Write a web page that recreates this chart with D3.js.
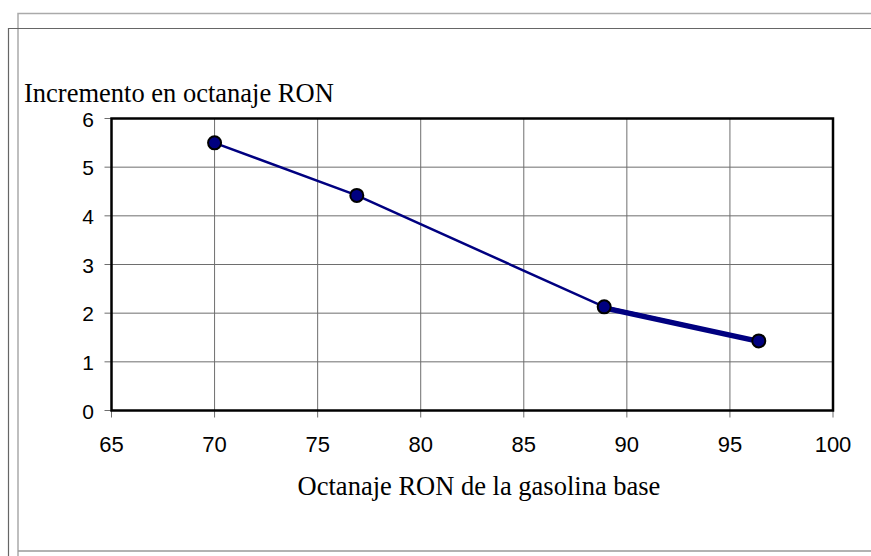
<!DOCTYPE html>
<html><head><meta charset="utf-8">
<script src="https://cdn.jsdelivr.net/npm/d3@7"></script>
<style>body{margin:0;background:#fff}svg{display:block}</style>
</head><body>
<svg id="c" width="871" height="556"></svg>
<script>
const xValues = [70, 76.9, 88.9, 96.4];
const yValues = [5.5, 4.42, 2.13, 1.43];
const thickX = [88.9, 96.4];
const thickY = [2.11, 1.42];
const xTicks = [65, 70, 75, 80, 85, 90, 95, 100];
const yTicks = [0, 1, 2, 3, 4, 5, 6];
const yTitle = "Incremento en octanaje RON";
const xTitle = "Octanaje RON de la gasolina base";

const svg = d3.select("#c");
const x = d3.scaleLinear().domain([65, 100]).range([111.5, 833]);
const y = d3.scaleLinear().domain([0, 6]).range([410.5, 118.5]);

// outer frames
svg.append("path").attr("d","M18,556 L18,13.5 L871,13.5").attr("fill","none").attr("stroke","#aaa").attr("stroke-width",1.5);
svg.append("path").attr("d","M18,551 L871,551").attr("fill","none").attr("stroke","#999").attr("stroke-width",1.5);
svg.append("path").attr("d","M8.5,556 L8.5,28.5 L871,28.5").attr("fill","none").attr("stroke","#666").attr("stroke-width",1.2);

// grid
const g = svg.append("g");
g.selectAll(".gx").data(xTicks.slice(1,-1)).join("line")
  .attr("x1",d=>x(d)).attr("x2",d=>x(d)).attr("y1",y(6)).attr("y2",y(0)+7)
  .attr("stroke","#6e6e6e").attr("stroke-width",1);
g.selectAll(".gy").data(yTicks.slice(1,-1)).join("line")
  .attr("x1",x(65)-7).attr("x2",x(100)).attr("y1",d=>y(d)).attr("y2",d=>y(d))
  .attr("stroke","#6e6e6e").attr("stroke-width",1);
g.selectAll(".ex").data([65,100]).join("line")
  .attr("x1",d=>x(d)).attr("x2",d=>x(d)).attr("y1",y(0)).attr("y2",y(0)+7)
  .attr("stroke","#6e6e6e").attr("stroke-width",1);
g.selectAll(".ey").data([0,6]).join("line")
  .attr("x1",x(65)-7).attr("x2",x(65)).attr("y1",d=>y(d)).attr("y2",d=>y(d))
  .attr("stroke","#6e6e6e").attr("stroke-width",1);

// plot border
svg.append("rect").attr("x",x(65)).attr("y",y(6)).attr("width",x(100)-x(65)).attr("height",y(0)-y(6))
  .attr("fill","none").attr("stroke","#000").attr("stroke-width",2.5);

// tick labels
svg.selectAll(".tx").data(xTicks).join("text")
  .attr("x",d=>x(d)).attr("y",451.5).attr("text-anchor","middle")
  .attr("font-family","Liberation Sans, Arial, sans-serif").attr("font-size",22).attr("fill","#000")
  .text(d=>d);
svg.selectAll(".ty").data(yTicks).join("text")
  .attr("x",94).attr("y",d=>y(d)+8).attr("text-anchor","end")
  .attr("font-family","Liberation Sans, Arial, sans-serif").attr("font-size",21).attr("fill","#000")
  .text(d=>d);

// titles
svg.append("text").attr("x",24).attr("y",101.5).attr("font-family","Liberation Serif, Times New Roman, serif")
  .attr("font-size",26.5).attr("fill","#000").text(yTitle);
svg.append("text").attr("x",479).attr("y",495).attr("text-anchor","middle").attr("font-family","Liberation Serif, Times New Roman, serif")
  .attr("font-size",26.5).attr("fill","#000").text(xTitle);

// series
const pts = xValues.map((v,i)=>[v, yValues[i]]);
const line = d3.line().x(d=>x(d[0])).y(d=>y(d[1]));
svg.append("path").attr("d",line(pts)).attr("fill","none").attr("stroke","#000080").attr("stroke-width",2.5);
const tpts = thickX.map((v,i)=>[v, thickY[i]]);
svg.append("path").attr("d",line(tpts)).attr("fill","none").attr("stroke","#000080").attr("stroke-width",5.5);
svg.selectAll(".pt").data(pts).join("circle")
  .attr("cx",d=>x(d[0])).attr("cy",d=>y(d[1])).attr("r",6.5)
  .attr("fill","#000080").attr("stroke","#000").attr("stroke-width",2);
</script>
</body></html>
